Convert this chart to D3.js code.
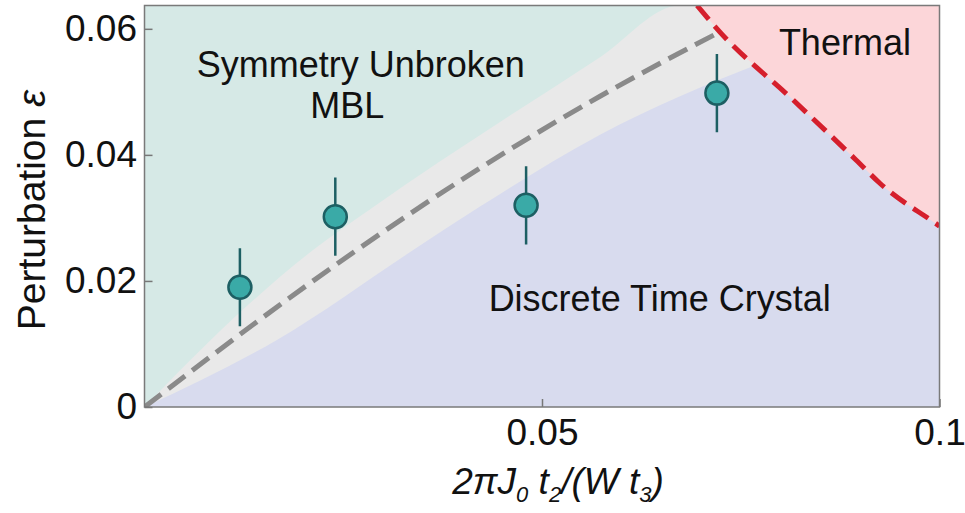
<!DOCTYPE html>
<html>
<head>
<meta charset="utf-8">
<script src="https://cdn.jsdelivr.net/npm/d3@7"></script>
<style>
  body { margin: 0; background: #fff; }
  text { font-family: 'Liberation Sans', Arial, sans-serif; fill: #111; }
</style>
</head>
<body>
<div id="chart"></div>
<script>
// measured points (x, eps, error)
const pointX = [0.012, 0.024, 0.048, 0.072];
const pointY = [0.019, 0.0302, 0.032, 0.0498];
const pointErr = [0.0062, 0.0062, 0.0062, 0.0062];

// phase boundaries
const upperX = [0, 0.0083, 0.0212, 0.0283, 0.0573, 0.0673, 0.1];
const upperY = [0, 0.0106, 0.0249, 0.0313, 0.0555, 0.0637, 0.0637];
const lowerX = [0, 0.0166, 0.0338, 0.0422, 0.0573, 0.077, 0.1];
const lowerY = [0, 0.0106, 0.0249, 0.0318, 0.0432, 0.0543, 0.0637];
const guideX = [0, 0.0179, 0.0267, 0.0422, 0.0573, 0.0722];
const guideY = [0, 0.017, 0.0249, 0.0379, 0.0493, 0.0594];
const thermalX = [0.0695, 0.0723, 0.0816, 0.0862, 0.0895, 0.0925, 0.0992, 0.1];
const thermalY = [0.0637, 0.0596, 0.0487, 0.0432, 0.0392, 0.0355, 0.0294, 0.0287];

const xTicks = [0.05, 0.1];
const xTickLabels = ['0.05', '0.1'];
const yTicks = [0, 0.02, 0.04, 0.06];
const yTickLabels = ['0', '0.02', '0.04', '0.06'];

const W = 965, H = 513;
const margin = { top: 5.5, right: 25.5, bottom: 106, left: 144.5 };
const width = W - margin.left - margin.right;
const height = H - margin.top - margin.bottom;

const zip = (xs, ys) => xs.map((x, i) => [x, ys[i]]);

const svg = d3.select('#chart').append('svg')
  .attr('width', W).attr('height', H);

const g = svg.append('g')
  .attr('transform', 'translate(' + margin.left + ',' + margin.top + ')');

const x = d3.scaleLinear().domain([0, 0.1]).range([0, width]);
const y = d3.scaleLinear().domain([0, 0.0637]).range([height, 0]);

g.append('clipPath').attr('id', 'plot-clip')
  .append('rect').attr('width', width).attr('height', height);

const plot = g.append('g').attr('clip-path', 'url(#plot-clip)');

// symmetry unbroken background
plot.append('rect')
  .attr('width', width).attr('height', height)
  .attr('fill', '#d6e9e6');

const areaUnder = d3.area()
  .x(d => x(d[0])).y0(y(0)).y1(d => y(d[1]))
  .curve(d3.curveMonotoneX);

// crossover band
plot.append('path')
  .datum(zip(upperX, upperY))
  .attr('fill', '#e9e9e9')
  .attr('d', areaUnder);

// DTC region
plot.append('path')
  .datum(zip(lowerX, lowerY))
  .attr('fill', '#d8dbee')
  .attr('d', areaUnder);

// thermal region
const areaOver = d3.area()
  .x(d => x(d[0])).y0(0).y1(d => y(d[1]))
  .curve(d3.curveMonotoneX);

plot.append('path')
  .datum(zip(thermalX, thermalY))
  .attr('fill', '#fcd6d9')
  .attr('d', areaOver);

const line = d3.line()
  .x(d => x(d[0])).y(d => y(d[1]))
  .curve(d3.curveMonotoneX);

plot.append('path')
  .datum(zip(guideX, guideY))
  .attr('fill', 'none')
  .attr('stroke', '#8a8a8a')
  .attr('stroke-width', 5)
  .attr('stroke-dasharray', '21,9')
  .attr('d', line);

plot.append('path')
  .datum(zip(thermalX, thermalY))
  .attr('fill', 'none')
  .attr('stroke', '#d51f2c')
  .attr('stroke-width', 5)
  .attr('stroke-dasharray', '18,9')
  .attr('d', line);

// error bars + markers
const pts = pointX.map((v, i) => ({ x: v, y: pointY[i], e: pointErr[i] }));

plot.selectAll('.err')
  .data(pts)
  .enter().append('line')
  .attr('class', 'err')
  .attr('x1', d => x(d.x)).attr('x2', d => x(d.x))
  .attr('y1', d => y(d.y - d.e)).attr('y2', d => y(d.y + d.e))
  .attr('stroke', '#1d5f63')
  .attr('stroke-width', 2.5);

plot.selectAll('.pt')
  .data(pts)
  .enter().append('circle')
  .attr('class', 'pt')
  .attr('cx', d => x(d.x)).attr('cy', d => y(d.y))
  .attr('r', 11.5)
  .attr('fill', '#3aaaa7')
  .attr('stroke', '#1d5f63')
  .attr('stroke-width', 2.5);

// region labels
const label = (tx, ty, s) => g.append('text')
  .attr('x', x(tx)).attr('y', y(ty))
  .attr('text-anchor', 'middle')
  .style('font-size', '36px')
  .text(s);

label(0.0272, 0.0523, 'Symmetry Unbroken');
label(0.0255, 0.0458, 'MBL');
label(0.0648, 0.0152, 'Discrete Time Crystal');
label(0.0881, 0.0559, 'Thermal');

// axes
const xAxis = g.append('g')
  .attr('transform', 'translate(0,' + height + ')')
  .call(d3.axisBottom(x).tickValues(xTicks)
    .tickFormat((d, i) => xTickLabels[i])
    .tickSize(-8).tickPadding(12));

const yAxis = g.append('g')
  .call(d3.axisLeft(y).tickValues(yTicks)
    .tickFormat((d, i) => yTickLabels[i])
    .tickSize(-8).tickPadding(7.5));

[xAxis, yAxis].forEach(a => {
  a.select('.domain').remove();
  a.selectAll('.tick line').attr('stroke', '#777').attr('stroke-width', 1.5);
  a.selectAll('.tick text')
    .attr('fill', '#111')
    .style('font-size', '37px')
    .style('font-family', "'Liberation Sans', Arial, sans-serif");
});

// frame
g.append('rect')
  .attr('width', width).attr('height', height)
  .attr('fill', 'none')
  .attr('stroke', '#7a7a7a')
  .attr('stroke-width', 1.5);

// axis titles
svg.append('text')
  .attr('transform', 'translate(45,' + 210 + ') rotate(-90)')
  .attr('text-anchor', 'middle')
  .style('font-size', '39px')
  .html('Perturbation <tspan font-style="italic">ε</tspan>');

const xt = svg.append('text')
  .attr('x', 558).attr('y', 494)
  .attr('text-anchor', 'middle')
  .style('font-size', '37px')
  .style('font-style', 'italic');
xt.append('tspan').text('2πJ');
xt.append('tspan').attr('dy', 8).style('font-size', '22px').text('0');
xt.append('tspan').attr('dy', -8).text(' t');
xt.append('tspan').attr('dy', 8).style('font-size', '22px').text('2');
xt.append('tspan').attr('dy', -8).text('/(W t');
xt.append('tspan').attr('dy', 8).style('font-size', '22px').text('3');
xt.append('tspan').attr('dy', -8).text(')');
</script>
</body>
</html>
